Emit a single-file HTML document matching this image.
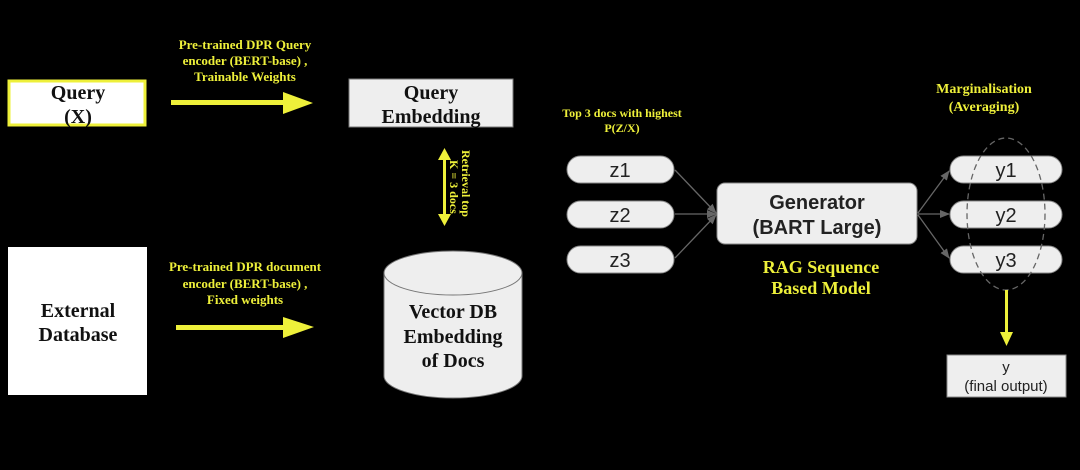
<!DOCTYPE html>
<html><head><meta charset="utf-8"><style>
html,body{margin:0;padding:0;background:#000;}
svg{display:block}
.s{font-family:"Liberation Serif",serif;font-weight:bold}
.a{font-family:"Liberation Sans",sans-serif}
</style></head><body>
<svg width="1080" height="470" viewBox="0 0 1080 470" xmlns="http://www.w3.org/2000/svg">
<defs>
<marker id="g" markerWidth="10" markerHeight="10" refX="9" refY="5" orient="auto" markerUnits="userSpaceOnUse"><path d="M0,1 L10,5 L0,9 Z" fill="#666"/></marker>
</defs>
<rect width="1080" height="470" fill="#000"/>
<rect x="9" y="81" width="136" height="44" fill="#fff" stroke="#eef03a" stroke-width="3"/>
<text class="s" x="78" y="99" font-size="20" text-anchor="middle" fill="#111">Query</text>
<text class="s" x="78" y="123" font-size="20" text-anchor="middle" fill="#111">(X)</text>
<g fill="#eef03a" class="s" font-size="13" text-anchor="middle">
<text x="245" y="49">Pre-trained DPR Query</text>
<text x="245" y="65">encoder (BERT-base) ,</text>
<text x="245" y="81">Trainable Weights</text>
<text x="245" y="271">Pre-trained DPR document</text>
<text x="245" y="288">encoder (BERT-base) ,</text>
<text x="245" y="304">Fixed weights</text>
</g>
<rect x="171" y="100" width="113" height="5" fill="#eef03a"/>
<path d="M283,92 L313,103 L283,114 Z" fill="#eef03a"/>
<rect x="176" y="325" width="108" height="5" fill="#eef03a"/>
<path d="M283,317 L314,327 L283,338 Z" fill="#eef03a"/>
<rect x="349" y="79" width="164" height="48" fill="#eee" stroke="#777" stroke-width="1"/>
<text class="s" x="431" y="99" font-size="20" text-anchor="middle" fill="#111">Query</text>
<text class="s" x="431" y="123" font-size="20" text-anchor="middle" fill="#111">Embedding</text>
<rect x="443" y="158" width="3" height="58" fill="#eef03a"/>
<path d="M438,160 L444.5,148 L451,160 Z M438,214 L444.5,226 L451,214 Z" fill="#eef03a"/>
<text class="s" font-size="12" fill="#eef03a" transform="translate(462,150) rotate(90)">Retrieval top</text>
<text class="s" font-size="12" fill="#eef03a" transform="translate(450,160) rotate(90)">K = 3 docs</text>
<rect x="8" y="247" width="139" height="148" fill="#fff"/>
<text class="s" x="78" y="317" font-size="20" text-anchor="middle" fill="#111">External</text>
<text class="s" x="78" y="341" font-size="20" text-anchor="middle" fill="#111">Database</text>
<path d="M384,273 L384,376 A69,22 0 0 0 522,376 L522,273 Z" fill="#eee" stroke="#777"/>
<ellipse cx="453" cy="273" rx="69" ry="22" fill="#eee" stroke="#777"/>
<text class="s" x="453" y="318" font-size="20" text-anchor="middle" fill="#111">Vector DB</text>
<text class="s" x="453" y="343" font-size="20" text-anchor="middle" fill="#111">Embedding</text>
<text class="s" x="453" y="367" font-size="20" text-anchor="middle" fill="#111">of Docs</text>
<text class="s" x="622" y="117" font-size="12" text-anchor="middle" fill="#eef03a">Top 3 docs with highest</text>
<text class="s" x="622" y="132" font-size="12" text-anchor="middle" fill="#eef03a">P(Z/X)</text>
<g fill="#eee" stroke="#888">
<rect x="567" y="156" width="107" height="27" rx="13.5"/>
<rect x="567" y="201" width="107" height="27" rx="13.5"/>
<rect x="567" y="246" width="107" height="27" rx="13.5"/>
<rect x="950" y="156" width="112" height="27" rx="13.5"/>
<rect x="950" y="201" width="112" height="27" rx="13.5"/>
<rect x="950" y="246" width="112" height="27" rx="13.5"/>
</g>
<g class="a" font-size="20" text-anchor="middle" fill="#222">
<text x="620" y="177">z1</text><text x="620" y="222">z2</text><text x="620" y="267">z3</text>
<text x="1006" y="177">y1</text><text x="1006" y="222">y2</text><text x="1006" y="267">y3</text>
</g>
<g stroke="#666" stroke-width="1.3" marker-end="url(#g)">
<line x1="675" y1="170" x2="716" y2="213"/>
<line x1="675" y1="214" x2="716" y2="214"/>
<line x1="675" y1="258" x2="716" y2="215"/>
<line x1="918" y1="213" x2="949" y2="171"/>
<line x1="918" y1="214" x2="949" y2="214"/>
<line x1="918" y1="215" x2="949" y2="258"/>
</g>
<rect x="717" y="183" width="200" height="61" rx="8" fill="#eee" stroke="#888"/>
<text class="a" x="817" y="209" font-size="20" font-weight="bold" text-anchor="middle" fill="#222">Generator</text>
<text class="a" x="817" y="234" font-size="20" font-weight="bold" text-anchor="middle" fill="#222">(BART Large)</text>
<text class="s" x="821" y="273" font-size="18" text-anchor="middle" fill="#eef03a">RAG Sequence</text>
<text class="s" x="821" y="294" font-size="18" text-anchor="middle" fill="#eef03a">Based Model</text>
<text class="s" x="984" y="93" font-size="14" text-anchor="middle" fill="#eef03a">Marginalisation</text>
<text class="s" x="984" y="111" font-size="14" text-anchor="middle" fill="#eef03a">(Averaging)</text>
<ellipse cx="1006" cy="214" rx="39" ry="76" fill="none" stroke="#666" stroke-dasharray="6,4" stroke-width="1.3"/>
<rect x="1005" y="290" width="3" height="44" fill="#eef03a"/>
<path d="M1000,332 L1006.5,346 L1013,332 Z" fill="#eef03a"/>
<rect x="947" y="355" width="119" height="42" fill="#eee" stroke="#888"/>
<text class="a" x="1006" y="372" font-size="15" text-anchor="middle" fill="#222">y</text>
<text class="a" x="1006" y="391" font-size="15" text-anchor="middle" fill="#222">(final output)</text>
</svg>
</body></html>
